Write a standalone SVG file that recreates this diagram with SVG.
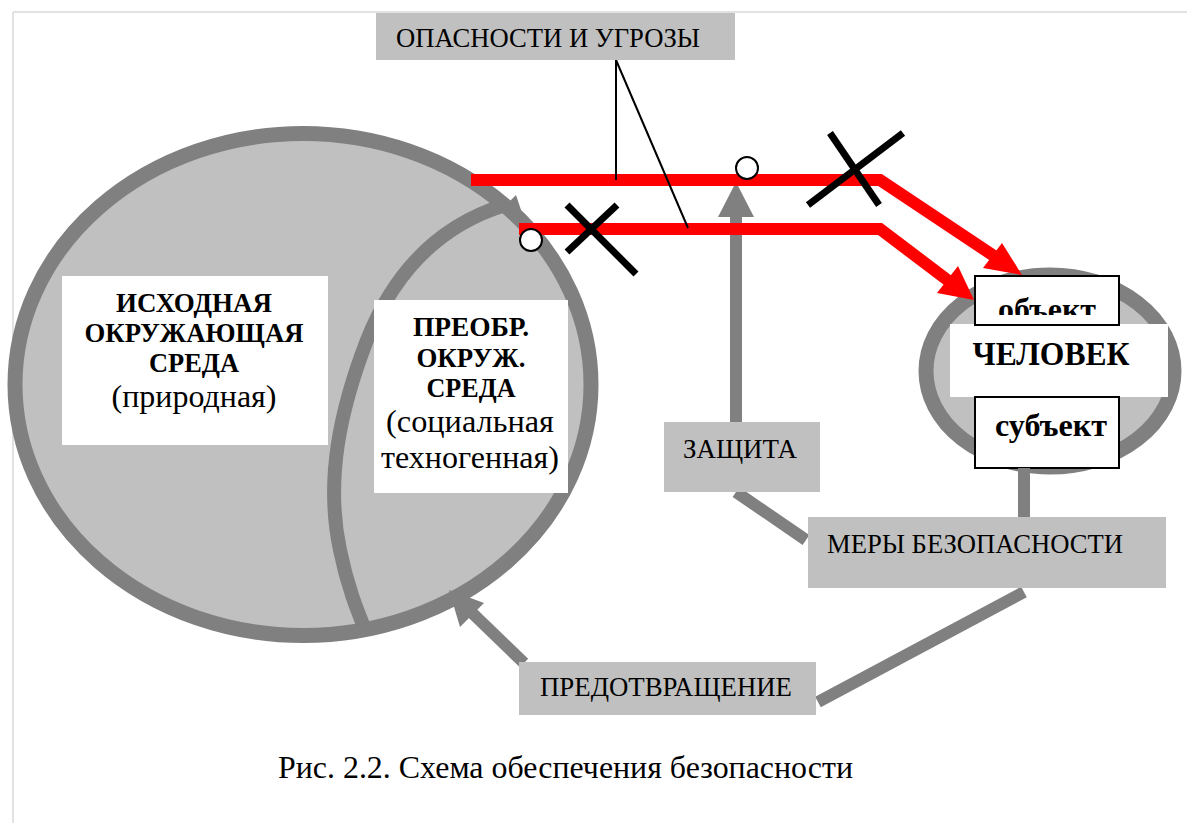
<svg xmlns="http://www.w3.org/2000/svg" width="1187" height="823" viewBox="0 0 1187 823">
<style>
.t{font-family:"Liberation Serif","Times New Roman",serif;fill:#000}
.b{font-weight:bold}
.gbox{fill:#c0c0c0}
.wbox{fill:#fff}
.kbox{fill:#fff;stroke:#000;stroke-width:2}
.gline{stroke:#808080;stroke-width:12;fill:none}
.red{stroke:#ff0000;stroke-width:12;fill:none}
.xm{stroke:#000;stroke-width:7}
.dot{fill:#fff;stroke:#000;stroke-width:2}
</style>
<defs>
<clipPath id="clipObj"><rect x="975" y="276" width="144" height="39"/></clipPath>
</defs>
<rect width="1187" height="823" fill="#fff"/>
<g id="frame" stroke="#d9d9d9" stroke-width="1.5">
<line x1="13" y1="12" x2="1187" y2="12"/>
<line x1="13" y1="12" x2="13" y2="823"/>
</g>
<g id="env">
<ellipse cx="303" cy="384.5" rx="288" ry="251" fill="#c0c0c0" stroke="#808080" stroke-width="15"/>
<path d="M 505 205 C 440 225 395 270 367 340 C 340 410 325 480 340 550 C 347 585 357 610 366 632" fill="none" stroke="#808080" stroke-width="14"/>
<polygon points="502,209 516,195 522,213" fill="#808080"/>
</g>
<g id="node-original">
<rect class="wbox" x="62" y="276" width="266" height="169"/>
<text class="t b" font-size="28" text-anchor="middle" x="194" y="312" textLength="156" lengthAdjust="spacingAndGlyphs">ИСХОДНАЯ</text>
<text class="t b" font-size="28" text-anchor="middle" x="194" y="342" textLength="219" lengthAdjust="spacingAndGlyphs">ОКРУЖАЮЩАЯ</text>
<text class="t b" font-size="28" text-anchor="middle" x="194" y="372" textLength="90" lengthAdjust="spacingAndGlyphs">СРЕДА</text>
<text class="t" font-size="31" text-anchor="middle" x="194" y="407" textLength="165" lengthAdjust="spacingAndGlyphs">(природная)</text>
</g>
<g id="node-transformed">
<rect class="wbox" x="374" y="300" width="194" height="193"/>
<text class="t b" font-size="28" text-anchor="middle" x="471" y="336" textLength="116" lengthAdjust="spacingAndGlyphs">ПРЕОБР.</text>
<text class="t b" font-size="28" text-anchor="middle" x="471" y="367" textLength="109" lengthAdjust="spacingAndGlyphs">ОКРУЖ.</text>
<text class="t b" font-size="28" text-anchor="middle" x="471" y="397" textLength="89" lengthAdjust="spacingAndGlyphs">СРЕДА</text>
<text class="t" font-size="31" text-anchor="middle" x="470" y="432" textLength="168" lengthAdjust="spacingAndGlyphs">(социальная</text>
<text class="t" font-size="31" text-anchor="middle" x="470" y="468" textLength="178" lengthAdjust="spacingAndGlyphs">техногенная)</text>
</g>
<g id="node-human">
<ellipse cx="1050" cy="371" rx="124" ry="96" fill="#c0c0c0" stroke="#808080" stroke-width="15"/>
<rect class="wbox" x="950" y="324" width="218" height="73"/>
<text class="t b" font-size="33" text-anchor="middle" x="1051" y="365" textLength="157" lengthAdjust="spacingAndGlyphs">ЧЕЛОВЕК</text>
<rect class="kbox" x="975" y="276" width="144" height="49"/>
<text class="t b" font-size="32" text-anchor="middle" x="1047" y="320" clip-path="url(#clipObj)" textLength="98" lengthAdjust="spacingAndGlyphs">объект</text>
<rect class="kbox" x="975" y="397" width="144" height="71"/>
<text class="t b" font-size="32" text-anchor="middle" x="1051" y="436" textLength="112" lengthAdjust="spacingAndGlyphs">субъект</text>
</g>
<g id="connectors">
<line class="gline" x1="736" y1="422" x2="736" y2="214"/>
<polygon points="718,217 736,182 754,217" fill="#808080"/>
<line class="gline" x1="736" y1="492" x2="806" y2="540"/>
<line class="gline" x1="1024" y1="468" x2="1024" y2="517"/>
<line class="gline" x1="1024" y1="592" x2="818" y2="702"/>
<line class="gline" x1="524" y1="663" x2="466" y2="607"/>
<polygon points="449,590 484,603 460,627" fill="#808080"/>
<path class="red" d="M 471 180 L 880 180 L 1000 260"/>
<polygon points="1022,275 983,268 1002,243" fill="#ff0000"/>
<path class="red" d="M 519 229 L 880 229 L 950 282"/>
<polygon points="974,300 937,293 958,266" fill="#ff0000"/>
<line x1="616" y1="60" x2="616" y2="180" stroke="#000" stroke-width="2"/>
<line x1="616" y1="60" x2="688" y2="228" stroke="#000" stroke-width="2"/>
<line class="xm" x1="567" y1="205" x2="636" y2="274"/>
<line class="xm" x1="617" y1="205" x2="567" y2="252"/>
<line class="xm" x1="830" y1="133" x2="879" y2="205"/>
<line class="xm" x1="903" y1="133" x2="808" y2="205"/>
<circle class="dot" cx="747" cy="168" r="11"/>
<circle class="dot" cx="531" cy="240" r="11"/>
</g>
<g id="node-threats">
<rect class="gbox" x="376" y="13" width="359" height="47"/>
<text class="t" font-size="28" x="396" y="47" textLength="304" lengthAdjust="spacingAndGlyphs">ОПАСНОСТИ И УГРОЗЫ</text>
</g>
<g id="node-protection">
<rect class="gbox" x="664" y="422" width="156" height="70"/>
<text class="t" font-size="28" x="683" y="458" textLength="114" lengthAdjust="spacingAndGlyphs">ЗАЩИТА</text>
</g>
<g id="node-measures">
<rect class="gbox" x="808" y="517" width="358" height="71"/>
<text class="t" font-size="28" x="827" y="553" textLength="296" lengthAdjust="spacingAndGlyphs">МЕРЫ БЕЗОПАСНОСТИ</text>
</g>
<g id="node-prevention">
<rect class="gbox" x="519" y="662" width="297" height="53"/>
<text class="t" font-size="28" x="540" y="696" textLength="252" lengthAdjust="spacingAndGlyphs">ПРЕДОТВРАЩЕНИЕ</text>
</g>
<g id="caption">
<text class="t" font-size="31" x="278" y="778" textLength="575" lengthAdjust="spacingAndGlyphs">Рис. 2.2. Схема обеспечения безопасности</text>
</g>
</svg>
